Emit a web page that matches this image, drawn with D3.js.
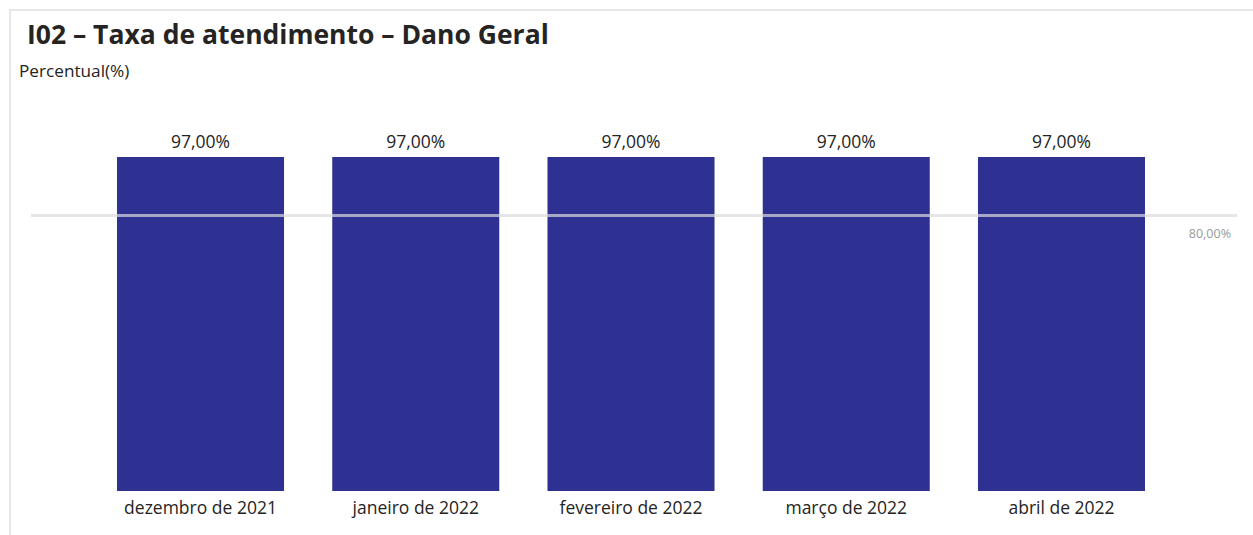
<!DOCTYPE html>
<html>
<head>
<meta charset="utf-8">
<script src="https://cdn.jsdelivr.net/npm/d3@7"></script>
<style>
  body { margin: 0; background: #fff; }
  svg { display: block; font-family: "Open Sans", "Noto Sans", sans-serif; }
</style>
</head>
<body>
<svg id="chart" width="1253" height="535"></svg>
<script>
// chart values
var months = ["dezembro de 2021", "janeiro de 2022", "fevereiro de 2022", "março de 2022", "abril de 2022"];
var rates = [97, 97, 97, 97, 97];
var targetRate = 80;

var fmt = function(v) { return d3.format(".2f")(v).replace(".", ",") + "%"; };

var svg = d3.select("#chart");

// card frame (open at right/bottom like the screenshot)
svg.append("path")
    .attr("d", "M10,535 V10 H1253")
    .attr("fill", "none")
    .attr("stroke", "#e6e6e6")
    .attr("stroke-width", 2);

svg.append("text")
    .attr("x", 27)
    .attr("y", 44)
    .attr("font-size", 26.5)
    .attr("font-weight", 700)
    .attr("fill", "#252423")
    .text("I02 – Taxa de atendimento – Dano Geral");

svg.append("text")
    .attr("x", 19)
    .attr("y", 77)
    .attr("font-size", 17.2)
    .attr("fill", "#252423")
    .text("Percentual(%)");

var x = d3.scaleBand()
    .domain(months)
    .range([117, 1145])
    .paddingInner(0.224)
    .paddingOuter(0);

var y = d3.scaleLinear()
    .domain([0, 97])
    .range([491, 157]);

var g = svg.append("g");

g.selectAll(".bar")
    .data(rates)
  .enter().append("rect")
    .attr("class", "bar")
    .attr("x", function(d, i) { return x(months[i]); })
    .attr("y", function(d) { return y(d); })
    .attr("width", x.bandwidth())
    .attr("height", function(d) { return y(0) - y(d); })
    .attr("fill", "#2e3192");

g.selectAll(".val")
    .data(rates)
  .enter().append("text")
    .attr("class", "val")
    .attr("x", function(d, i) { return x(months[i]) + x.bandwidth() / 2; })
    .attr("y", function(d) { return y(d) - 9; })
    .attr("text-anchor", "middle")
    .attr("font-size", 17.5)
    .attr("fill", "#252423")
    .text(fmt);

// category axis
var xAxis = g.append("g")
    .attr("transform", "translate(0," + y(0) + ")")
    .call(d3.axisBottom(x).tickSize(0).tickPadding(11));
xAxis.select(".domain").remove();
xAxis.selectAll("text")
    .attr("font-size", 17.5)
    .attr("font-family", "\"Open Sans\", \"Noto Sans\", sans-serif")
    .attr("fill", "#252423");

// target line
g.append("line")
    .attr("x1", 31)
    .attr("x2", 1237)
    .attr("y1", y(targetRate))
    .attr("y2", y(targetRate))
    .attr("stroke", "#dcdcdc")
    .attr("stroke-opacity", 0.7)
    .attr("stroke-width", 3);

g.append("text")
    .attr("x", 1231)
    .attr("y", y(targetRate) + 22)
    .attr("text-anchor", "end")
    .attr("font-size", 12.5)
    .attr("fill", "#999999")
    .text(fmt(targetRate));
</script>
</body>
</html>
